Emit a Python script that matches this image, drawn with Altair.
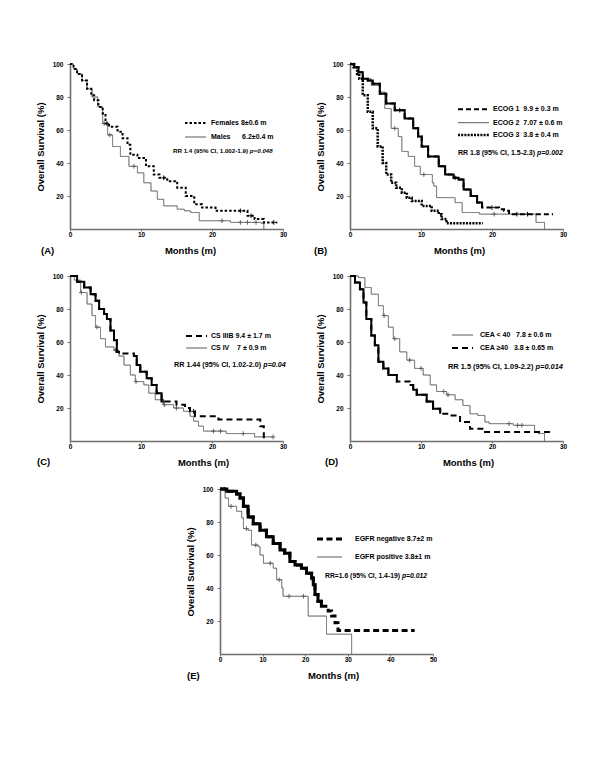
import altair as alt
import pandas as pd

FONT = "Liberation Sans"
NB = "\u00a0"

# ---------------- data ----------------
# Panel A : gender
A_fem_t = [0, 0.5, 1.0, 1.7, 2.4, 3.0, 3.4, 4.0, 4.6, 5.0, 5.5, 6.7, 7.4, 8.1, 8.5, 9.5, 10.7, 11.8, 12.6, 13.7, 15.1, 16.3, 17.5, 18.6, 20.5, 25.0, 26.0, 27.3, 29.2]
A_fem_s = [100, 97, 94, 90, 85, 81, 78, 74, 70, 64, 62, 59, 55, 51, 45, 43, 38, 33, 31, 29, 25, 20, 15, 13, 11, 8, 6, 4, 4]
A_fem_c = [5.2, 13.2, 24.0, 25.5, 28.7]
A_mal_t = [0, 0.5, 1.0, 1.7, 2.4, 3.1, 3.9, 4.6, 5.3, 6.0, 7.1, 8.3, 9.5, 10.4, 11.4, 12.3, 13.2, 15.1, 16.1, 17.0, 18.2, 22.6, 26.9, 27.3]
A_mal_s = [100, 97, 94, 90, 85, 80, 74, 64, 57, 50, 44, 38, 34, 28, 23, 18, 14, 12, 11, 10, 5, 4, 3.5, 0]
A_mal_c = [4.8, 5.6, 9.0, 21.4, 24.0, 25.0, 26.2]

# Panel B : ECOG
B_e1_t = [0, 0.6, 1.2, 1.8, 2.5, 3.2, 4.2, 5.1, 6.3, 7.7, 8.9, 9.6, 10.1, 11.0, 12.5, 13.4, 14.6, 15.3, 16.0, 17.0, 17.9, 18.6, 21.0, 21.7, 22.4, 28.6]
B_e1_s = [100, 98, 95, 91, 90, 88, 82, 76, 72, 67, 61, 56, 50, 44, 38, 33, 31, 30, 24, 20, 16, 13, 12, 11, 9, 9]
B_e1_c = [7.0, 14.8, 20.0, 23.5, 25.0]
B_e2_t = [0, 0.6, 1.2, 1.8, 3.0, 4.2, 4.9, 5.8, 6.8, 7.3, 8.2, 9.1, 9.9, 11.6, 11.8, 12.2, 14.8, 15.8, 18.2, 26.2, 27.4]
B_e2_s = [100, 98, 95, 91, 87, 83, 73, 61, 56, 47, 44, 38, 33, 28, 26, 19, 16, 10, 9, 4, 0]
B_e2_c = [6.3, 10.4, 20.3]
B_e3_t = [0, 0.5, 1.0, 1.3, 1.8, 2.5, 3.2, 3.9, 4.6, 5.1, 5.8, 6.5, 7.3, 8.0, 8.7, 10.1, 11.5, 12.5, 12.9, 13.6, 18.7]
B_e3_s = [100, 98, 94, 91, 81, 71, 61, 50, 40, 33, 28, 25, 22, 19, 17, 14, 11, 9, 6, 3.5, 3.5]

# Panel C : clinical stage
C_3b_t = [0, 1.0, 2.0, 2.9, 3.6, 4.1, 4.8, 5.2, 5.7, 6.2, 6.6, 6.9, 9.0, 9.4, 9.9, 10.8, 11.5, 12.2, 12.9, 15.0, 16.2, 16.9, 17.6, 20.9, 26.8, 27.3]
C_3b_s = [100, 96.5, 93, 89, 85, 80, 77, 74, 67, 61, 54, 53, 51.5, 46, 42, 38, 34, 29, 24, 22, 20, 18, 15, 13, 9, 0]
C_3b_c = [13.1, 17.4]
C_4_t = [0, 0.6, 1.5, 2.4, 3.1, 3.6, 4.3, 5.0, 6.2, 6.9, 7.6, 8.5, 9.2, 10.4, 11.1, 12.0, 13.2, 14.6, 16.0, 16.9, 17.4, 18.1, 18.8, 22.0, 26.0, 28.6]
C_4_s = [100, 97.5, 90, 83, 76, 69, 62, 57, 55, 51.5, 46, 40, 36, 34, 29, 25, 22, 20, 18, 15, 12, 9, 6, 4.5, 2.5, 2.5]
C_4_c = [1.6, 3.8, 6.4, 9.3, 13.3, 15.0, 20.2, 21.2, 24.4, 28.6]

# Panel D : CEA
D_lo_t = [0, 1.2, 2.1, 3.0, 4.0, 4.7, 5.4, 6.1, 7.0, 8.0, 9.1, 10.3, 11.3, 12.2, 13.6, 14.8, 15.9, 16.9, 18.0, 19.0, 19.6, 23.0, 26.0, 26.5, 27.4]
D_lo_s = [100, 99, 93, 89, 82, 76, 69, 62, 54, 49, 44, 40, 34, 30, 28, 25, 21.5, 16.5, 15.5, 11.5, 10.5, 9.5, 5.5, 4.5, 0]
D_lo_c = [4.8, 6.3, 8.4, 10.0, 13.2, 13.8, 22.4, 23.6, 24.2]
D_hi_t = [0, 0.7, 1.4, 1.9, 2.3, 3.0, 3.5, 4.0, 4.7, 5.4, 6.6, 8.4, 8.9, 9.4, 10.8, 11.7, 12.7, 14.1, 15.5, 16.9, 18.8, 28.6]
D_hi_s = [100, 96, 92, 84, 74, 64, 58, 48, 44, 40, 36, 34, 31, 28, 24, 19.5, 16.5, 15.5, 11.5, 7.5, 5.5, 5.5]

# Panel E : EGFR
E_neg_t = [0, 1.6, 3.9, 4.7, 5.5, 6.6, 7.8, 9.4, 10.9, 12.5, 14.1, 15.2, 16.4, 17.6, 19.1, 20.3, 21.5, 21.9, 22.3, 23.0, 23.8, 25.4, 26.2, 27.0, 27.7, 45.7]
E_neg_s = [100, 98.6, 97, 94.5, 89.5, 83, 79, 75, 71, 67, 63, 61, 56, 54, 52, 49, 46, 42, 36, 32, 29, 26, 23, 19, 14.3, 14.3]
E_pos_t = [0, 1.2, 2.0, 3.9, 5.1, 5.5, 6.6, 7.4, 9.0, 9.4, 10.2, 12.5, 13.3, 14.5, 14.8, 20.7, 25.0, 30.9]
E_pos_s = [100, 94.5, 89.5, 86.5, 82.5, 76, 75, 66, 65, 60, 55, 52, 45, 40, 35, 23, 12, 0]
E_pos_c = [1.0, 2.6, 6.2, 8.4, 11.8, 13.9, 16.2, 19.6]

Y_TICKS = [20, 40, 60, 80, 100]
X_TICKS_30 = [0, 10, 20, 30]
X_TICKS_50 = [0, 10, 20, 30, 40, 50]

# ---------------- styling ----------------
BLACK = "#000000"
GRAY = "#5a5a5a"
AXIS_GRAY = "#6f6f6f"
SOLID = [1, 0]
W, H = 213, 165
PLUS = "M-1,0H1M0,-1V1"

CW = {" ": .278, NB: .278, ".": .278, ",": .278, "(": .333, ")": .333, "%": .889,
      "-": .333, "=": .584, "R": .722, "C": .722, "I": .278, "p": .611}


def text_width(s, size):
    return sum(CW.get(ch, .556) for ch in s) * size


def curve_df(ts, ss):
    return pd.DataFrame({"t": ts, "s": ss, "i": list(range(len(ts)))})


def survival_at(ts, ss, x):
    val = ss[0]
    for t, s in zip(ts, ss):
        if t <= x:
            val = s
    return val


def censor_df(ts, ss, cs):
    return pd.DataFrame({"t": cs, "s": [survival_at(ts, ss, c) for c in cs]})


def solid_df(ts, ss, intervals):
    rows = []
    for k, (a, b) in enumerate(intervals):
        pts = [(t, s) for t, s in zip(ts, ss) if a <= t <= b]
        prev = [(t, s) for t, s in zip(ts, ss) if t <= a]
        if prev and (not pts or pts[0][0] > a):
            pts.insert(0, (a, prev[-1][1]))
        if pts and pts[-1][0] < b:
            pts.append((b, pts[-1][1]))
        for i, (t, s) in enumerate(pts):
            rows.append({"seg": k, "t": t, "s": s, "i": i})
    return pd.DataFrame(rows)


def panel(p):
    xs = alt.Scale(domain=[0, p["xmax"]], nice=False, zero=True)
    ys = alt.Scale(domain=[0, 100], nice=False)
    xenc = alt.X("t:Q", scale=xs, axis=alt.Axis(
        values=p["xticks"], format="d", title="Months (m)", titleX=p["titlex"],
        titlePadding=8, tickSize=2, labelPadding=0, labelFlush=False, labelOverlap=False))
    yenc = alt.Y("s:Q", scale=ys, axis=alt.Axis(
        values=Y_TICKS, format="d", title="Overall Survival (%)", titlePadding=6.5,
        tickSize=3, labelPadding=4, labelFlush=False, labelOverlap=False))
    one = pd.DataFrame({"k": [0]})
    layers = []
    # curves
    for c in p["curves"]:
        layers.append(alt.Chart(curve_df(c["t"], c["s"])).mark_line(
            interpolate="step-after", color=c["color"], strokeWidth=c["width"],
            strokeDash=c["dash"], strokeCap="butt").encode(x=xenc, y=yenc, order="i:Q"))
        if c.get("solid"):
            layers.append(alt.Chart(solid_df(c["t"], c["s"], c["solid"])).mark_line(
                interpolate="step-after", color=c["color"], strokeWidth=c["width"],
                strokeCap="butt").encode(x=xenc, y=yenc, detail="seg:N", order="i:Q"))
        if c.get("cens"):
            layers.append(alt.Chart(censor_df(c["t"], c["s"], c["cens"])).mark_point(
                shape=PLUS, size=22, filled=False, color=c["color"], strokeWidth=0.9, opacity=1
            ).encode(x=xenc, y=yenc))
    # legend
    lg = p["legend"]
    for c, yrow in zip(p["curves"], lg["rows"]):
        layers.append(alt.Chart(one).mark_rule(
            color=c["color"], strokeWidth=c["width"], strokeDash=c["dash"], strokeCap="butt"
        ).encode(x=alt.value(lg["x0"]), x2=alt.value(lg["x1"]), y=alt.value(yrow)))
        layers.append(alt.Chart(one).mark_text(
            text=c["label"], align="left", baseline="middle", font=FONT, fontSize=7,
            fontWeight="bold", color="black").encode(x=alt.value(lg["lx"]), y=alt.value(yrow)))
    # RR annotation
    rr = p["rr"]
    layers.append(alt.Chart(one).mark_text(
        text=rr["a"], align="left", baseline="middle", font=FONT, fontSize=rr["size"],
        fontWeight="bold", color="black").encode(x=alt.value(rr["x"]), y=alt.value(rr["y"])))
    layers.append(alt.Chart(one).mark_text(
        text=rr["b"], align="left", baseline="middle", font=FONT, fontSize=rr["size"],
        fontWeight="bold", fontStyle="italic", color="black").encode(
        x=alt.value(rr["x"] + text_width(rr["a"], rr["size"])), y=alt.value(rr["y"])))
    # panel letter
    layers.append(alt.Chart(one).mark_text(
        text=p["tag"], align="left", baseline="middle", font=FONT, fontSize=9.5,
        fontWeight="bold", color="black").encode(x=alt.value(p["tagx"]), y=alt.value(H + p["tagy"])))
    return alt.layer(*layers).properties(width=W, height=H)


PANELS = {
    "A": dict(xmax=30, xticks=X_TICKS_30, titlex=120, tag="(A)", tagx=-29, tagy=22,
              curves=[
                  dict(t=A_mal_t, s=A_mal_s, cens=A_mal_c, color=GRAY, width=1, dash=SOLID,
                       label="Males" + NB * 6 + "6.2±0.4 m"),
                  dict(t=A_fem_t, s=A_fem_s, cens=A_fem_c, color=BLACK, width=2, dash=[2.5, 2],
                       label="Females 8±0.6 m"),
              ],
              legend=dict(x0=115, x1=136, lx=141, rows=[73, 59]),
              rr=dict(a="RR 1.4 (95% CI, 1.002-1.9) ", b="p=0.048", x=103, y=87, size=6.2)),
    "B": dict(xmax=30, xticks=X_TICKS_30, titlex=109, tag="(B)", tagx=-36, tagy=22,
              curves=[
                  dict(t=B_e2_t, s=B_e2_s, cens=B_e2_c, color=GRAY, width=1, dash=SOLID,
                       label="ECOG 2" + NB * 2 + "7.07 ± 0.6 m"),
                  dict(t=B_e1_t, s=B_e1_s, cens=B_e1_c, color=BLACK, width=2, dash=[5, 3],
                       label="ECOG 1" + NB * 2 + "9.9 ± 0.3 m", solid=[(0, 18.6)]),
                  dict(t=B_e3_t, s=B_e3_s, color=BLACK, width=2.5, dash=[2, 1.2],
                       label="ECOG 3" + NB * 2 + "3.8 ± 0.4 m"),
              ],
              legend=dict(x0=108, x1=139, lx=143, rows=[58.7, 45.3, 71]),
              rr=dict(a="RR 1.8 (95% CI, 1.5-2.3) ", b="p=0.002", x=108, y=89, size=7)),
    "C": dict(xmax=30, xticks=X_TICKS_30, titlex=133, tag="(C)", tagx=-33, tagy=21,
              curves=[
                  dict(t=C_4_t, s=C_4_s, cens=C_4_c, color=GRAY, width=1, dash=SOLID,
                       label="CS IV" + NB * 4 + "7 ± 0.9 m"),
                  dict(t=C_3b_t, s=C_3b_s, cens=C_3b_c, color=BLACK, width=2, dash=[6, 4],
                       label="CS IIIB" + NB + "9.4 ± 1.7 m", solid=[(0, 6.9), (9.0, 13.0)]),
              ],
              legend=dict(x0=116, x1=137, lx=141, rows=[72, 60]),
              rr=dict(a="RR 1.44 (95% CI, 1.02-2.0) ", b="p=0.04", x=104, y=89, size=7.2)),
    "D": dict(xmax=30, xticks=X_TICKS_30, titlex=118, tag="(D)", tagx=-25, tagy=21,
              curves=[
                  dict(t=D_lo_t, s=D_lo_s, cens=D_lo_c, color=GRAY, width=1, dash=SOLID,
                       label="CEA < 40" + NB * 3 + "7.8 ± 0.6 m"),
                  dict(t=D_hi_t, s=D_hi_s, color=BLACK, width=2, dash=[6, 4],
                       label="CEA ≥40" + NB * 3 + "3.8 ± 0.65 m", solid=[(0, 6.7), (8.4, 12.7)]),
              ],
              legend=dict(x0=102, x1=123, lx=130, rows=[59, 72]),
              rr=dict(a="RR 1.5 (95% CI, 1.09-2.2) ", b="p=0.014", x=98, y=91, size=7.4)),
    "E": dict(xmax=50, xticks=X_TICKS_50, titlex=113, tag="(E)", tagx=-33, tagy=21.6,
              curves=[
                  dict(t=E_pos_t, s=E_pos_s, cens=E_pos_c, color=GRAY, width=1, dash=SOLID,
                       label="EGFR positive 3.8±1 m"),
                  dict(t=E_neg_t, s=E_neg_s, color=BLACK, width=3, dash=[6, 3.5],
                       label="EGFR negative 8.7±2 m", solid=[(0, 23.8)]),
              ],
              legend=dict(x0=97, x1=122, lx=135, rows=[68, 50]),
              rr=dict(a="RR=1.6 (95% CI, 1.4-19) ", b="p=0.012", x=105, y=87, size=6.8)),
}

pA, pB, pC, pD, pE = (panel(PANELS[k]) for k in "ABCDE")

# invisible spacer that pushes panel E towards the centre of the page
spacer = alt.Chart(pd.DataFrame({"k": [0]})).mark_rule(strokeOpacity=0, opacity=0).encode(
    x=alt.value(0), y=alt.value(0), y2=alt.value(1)
).properties(width=150, height=1)

grid = alt.concat(pA, pB, pC, pD, columns=2, bounds="flush",
                  spacing={"row": 47, "column": 67})
row3 = alt.hconcat(spacer, pE, spacing=0, bounds="flush")

chart = alt.vconcat(grid, row3, spacing=16).properties(
    padding={"left": 27, "top": 51, "right": 5, "bottom": 5}
).configure_view(stroke=None).configure_axis(
    grid=False, domainColor=AXIS_GRAY, domainWidth=1.6, tickColor=AXIS_GRAY, tickWidth=1,
    labelFont=FONT, labelFontSize=6.5, labelFontWeight="bold", labelColor="black",
    titleFont=FONT, titleFontSize=9.5, titleFontWeight="bold", titleColor="black",
)

chart.save("out.html", embed_options={"renderer": "svg", "actions": False})
